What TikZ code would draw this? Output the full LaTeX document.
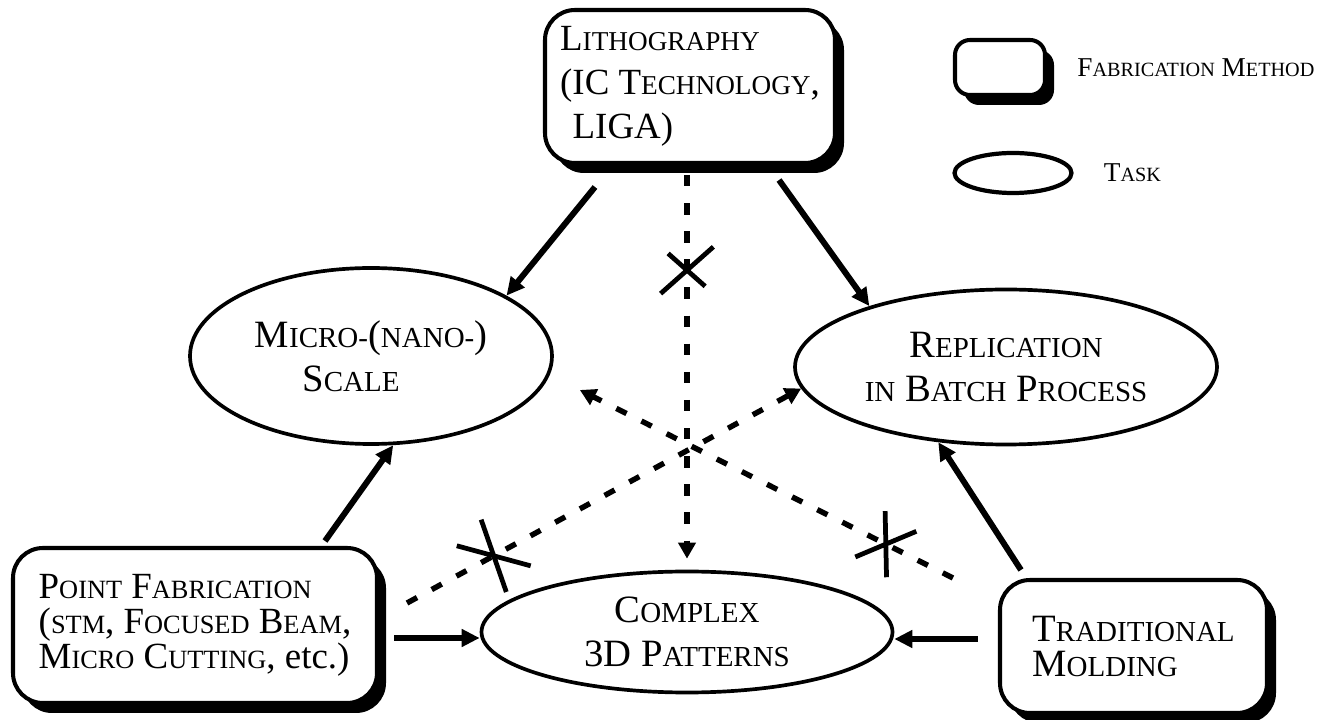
\documentclass[tikz,border=0pt]{standalone}
\usepackage{fontspec}
\setmainfont{Liberation Serif}
\usetikzlibrary{shapes.geometric,shapes.misc,arrows.meta,positioning,shadows}
\newcommand{\fsmsize}{16.5pt}
\newcommand{\fsm}[1]{{\fontsize{\fsmsize}{\fsmsize}\selectfont #1}}
\newcommand{\lsm}[1]{{\fontsize{11.5pt}{11.5pt}\selectfont #1}}
\tikzset{basic/.style={draw,fill=white,line width=2.3pt,inner sep=0pt,font=\fontsize{22pt}{25pt}\selectfont}}
\tikzset{method/.style={basic,rectangle,rounded corners=0.6cm,align=left,drop shadow={shadow xshift=0.18cm,shadow yshift=-0.2cm,fill=black,opacity=1}}}
\tikzset{task/.style={basic,ellipse,line width=2.1pt,align=center}}
\tikzset{arrow/.style={draw,line width=3.4pt,-{Triangle[length=0.36cm,width=0.34cm]}}}
\tikzset{dasharrow/.style={draw,line width=3.1pt,dash pattern=on 6.5pt off 9.5pt,-{Triangle[length=0.32cm,width=0.34cm]}}}
\tikzset{xmark/.style={cross out,draw,solid,line width=2.7pt,inner sep=0pt}}
\tikzset{legend/.style={font=\fontsize{15.5pt}{15.5pt}\selectfont,inner sep=0pt}}

\begin{document}
\begin{tikzpicture}[node distance=2cm]
    \useasboundingbox (0,0) rectangle (26.52,14.4);
    \node[method,minimum width=5.8cm,minimum height=3.06cm,font=\fontsize{21pt}{25pt}\selectfont\renewcommand{\fsmsize}{15.5pt}] (litho) at (13.8,12.67) {L\fsm{ITHOGRAPHY}\\(IC T\fsm{ECHNOLOGY},\\\hspace*{0.25cm}LIGA)};
    \node[method,minimum width=7.28cm,minimum height=3.1cm,font=\fontsize{21pt}{20pt}\selectfont\renewcommand{\fsmsize}{15pt}] (point) at (3.9,1.89) {P\fsm{OINT} F\fsm{ABRICATION}\\(\fsm{STM}, F\fsm{OCUSED} B\fsm{EAM},\\M\fsm{ICRO} C\fsm{UTTING}, etc.)};
    \node[method,minimum width=5.34cm,minimum height=2.66cm,font=\fontsize{22pt}{20pt}\selectfont] (trad) at (22.67,1.47) {T\fsm{RADITIONAL}\\M\fsm{OLDING}};

    \node[task,minimum width=7.24cm,minimum height=3.52cm,align=left] (micro) at (7.42,7.28) {M\fsm{ICRO-}(\fsm{NANO-})\\\hspace*{0.95cm}S\fsm{CALE}};
    \node[task,minimum width=8.44cm,minimum height=3.1cm] (repl) at (20.12,7.06) {R\fsm{EPLICATION}\\\fsm{IN} B\fsm{ATCH} P\fsm{ROCESS}};
    \node[task,minimum width=8.22cm,minimum height=2.42cm] (complex) at (13.74,1.76) {C\fsm{OMPLEX}\\3D P\fsm{ATTERNS}};

    \node[method,minimum width=1.8cm,minimum height=1.1cm,rounded corners=0.3cm] (legbox) at (20.0,13.05) {};
    \node[legend,right=0.6cm of legbox] (legboxtext) {F\lsm{ABRICATION} M\lsm{ETHOD}};
    \node[task,line width=2.4pt,minimum width=2.34cm,minimum height=0.8cm] (legell) at (20.26,10.94) {};
    \node[legend,right=0.6cm of legell] (legelltext) {T\lsm{ASK}};

        \path[arrow] ([xshift=1.04cm,yshift=-0.44cm]litho.south west) -- (micro.24);
        \path[arrow] ([xshift=-1.16cm,yshift=-0.3cm]litho.south east) -- (repl.156);
        \path[arrow] ([xshift=2.6cm,yshift=0.1cm]point.north) -- (micro.284);
        \path[arrow,shorten <=0.3cm] ([yshift=-0.25cm]point.east) -- ([yshift=-0.12cm]complex.west);
        \path[arrow,shorten <=0.4cm] ([yshift=0.15cm]trad.west) -- ([yshift=-0.14cm]complex.east);
        \path[arrow] ([xshift=0.46cm,yshift=0.16cm]trad.north west) -- (repl.228);
        \path[dasharrow,shorten <=0.2cm,shorten >=0.22cm] (litho.south -| complex.north) -- node[xmark,pos=0.26,minimum width=0.96cm,minimum height=0.84cm] (cx1) {} (complex.north);
        \path[dasharrow] ([shift={(0.56,0.45)}]point.east) -- node[xmark,pos=0.22,rotate=-43,minimum width=1.26cm,minimum height=0.62cm] (cx2) {} (repl.186);
        \path[dasharrow] ([xshift=-0.9cm]trad.north west) -- node[xmark,pos=0.18,rotate=57,minimum width=1cm,minimum height=0.65cm] (cx3) {} ([shift={(0.52,-0.68)}]micro.east);
  \end{tikzpicture}
\end{document}
